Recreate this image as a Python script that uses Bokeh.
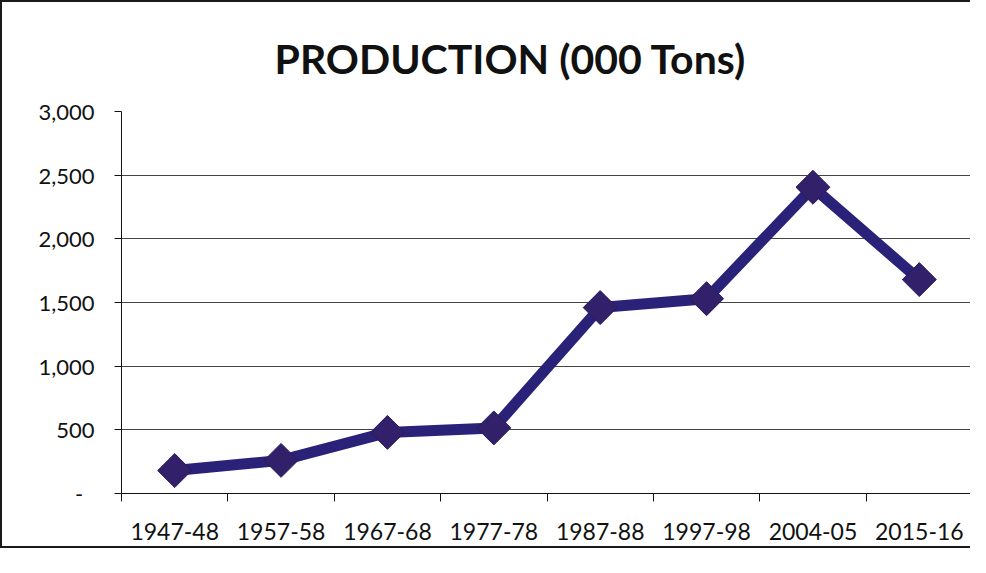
from bokeh.plotting import figure
from bokeh.models import FixedTicker, NumeralTickFormatter, Range1d
from bokeh.embed import file_html
from bokeh.resources import INLINE

categories = ["1947-48", "1957-58", "1967-68", "1977-78", "1987-88", "1997-98", "2004-05", "2015-16"]
production = [180, 260, 480, 515, 1460, 1530, 2405, 1680]
y_ticks = [0, 500, 1000, 1500, 2000, 2500, 3000]

xs = [i + 0.5 for i in range(len(categories))]

p = figure(width=970, height=548, output_backend="svg", toolbar_location=None,
           x_range=Range1d(0, len(categories)), y_range=Range1d(0, 3000),
           min_border_left=119, min_border_right=0, min_border_top=107, min_border_bottom=57)
p.styles = {"border-left": "2px solid #1a1a1a", "border-top": "2px solid #1a1a1a",
            "border-bottom": "2px solid #1a1a1a"}
p.background_fill_color = "white"
p.border_fill_color = "white"
p.outline_line_color = None

p.title.text = "PRODUCTION (000 Tons)"
p.title.text_font = "Lato"
p.title.text_font_style = "bold"
p.title.text_font_size = "41px"
p.title.text_color = "#111111"
p.title.align = "left"
p.title.offset = 153
p.title.standoff = 58

# x axis: labels at category centres, tick marks at category boundaries
xt = FixedTicker(ticks=xs, minor_ticks=list(range(len(categories) + 1)))
p.xaxis.ticker = xt
p.xaxis.major_label_overrides = {x: c for x, c in zip(xs, categories)}
p.xaxis.major_tick_out = 0
p.xaxis.major_tick_in = 0
p.xaxis.minor_tick_out = 8
p.xaxis.minor_tick_in = 0
p.xaxis.minor_tick_line_color = "#111111"
p.xaxis.axis_line_color = "#111111"
p.xaxis.major_label_text_font = "Lato"
p.xaxis.major_label_text_font_size = "23px"
p.xaxis.major_label_text_color = "#111111"
p.xaxis.major_label_standoff = 21
p.xgrid.visible = False

p.yaxis.ticker = FixedTicker(ticks=y_ticks)
p.yaxis.formatter = NumeralTickFormatter(format="0,0")
p.yaxis.major_label_overrides = {0: "-\u00a0\u00a0"}
p.yaxis.major_tick_out = 7
p.yaxis.major_tick_in = 0
p.yaxis.minor_tick_line_color = None
p.yaxis.axis_line_color = "#111111"
p.yaxis.major_tick_line_color = "#111111"
p.yaxis.major_label_text_font = "Lato"
p.yaxis.major_label_text_font_size = "22px"
p.yaxis.major_label_text_color = "#111111"
p.yaxis.major_label_standoff = 20
p.ygrid.grid_line_color = "#444444"
p.ygrid.grid_line_width = 1

p.line(xs, production, line_color="#2a2279", line_width=11, line_join="round")
p.scatter(xs, production, marker="square", angle=0.785398, size=24,
          fill_color="#33206a", line_color="#2a1a5c", line_width=1)

open("out.html", "w").write(file_html(p, INLINE))
